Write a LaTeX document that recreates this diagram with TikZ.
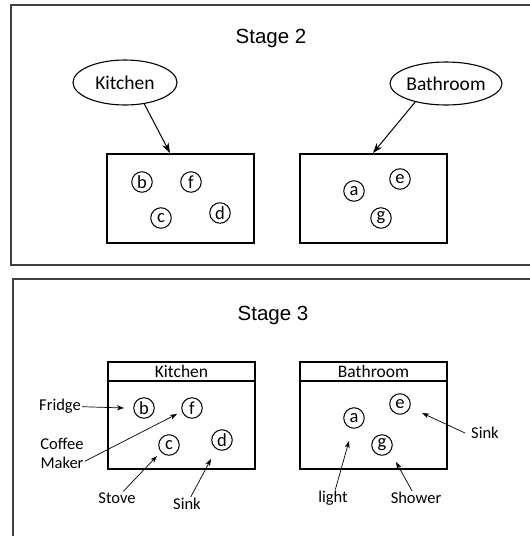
\documentclass[tikz,border=0pt]{standalone}
\usepackage{fontspec}
\setmainfont{Carlito}
\newfontfamily\arialf{Liberation Sans}
\usetikzlibrary{shapes.geometric,arrows.meta}
\begin{document}
\begin{tikzpicture}[x=1pt,y=-1pt,
  outer/.style={draw=black!75, line width=2pt},
  stagetitle/.style={font=\arialf\fontsize{20.5}{24}\selectfont, inner sep=0},
  oval/.style={ellipse, draw, line width=1.1pt, minimum width=104pt, minimum height=45pt, inner sep=0, font=\fontsize{19.5}{22}\selectfont},
  room/.style={draw, line width=1.4pt, minimum width=147pt, minimum height=89pt, inner sep=0},
  hdr/.style={draw, line width=1.4pt, minimum width=147pt, minimum height=19pt, inner sep=0, font=\fontsize{17.5}{19}\selectfont},
  item/.style={circle, draw, line width=1pt, minimum size=20.5pt, inner sep=0, font=\fontsize{18.5}{19}\selectfont},
  lbl/.style={inner sep=1pt, font=\fontsize{16.5}{19}\selectfont, align=center},
  bigarrow/.style={-{Stealth[length=10pt,width=7pt,inset=3pt]}, line width=1pt},
  smallarrow/.style={-{Stealth[length=7pt,width=5pt,inset=2pt]}, line width=0.7pt},
]
\useasboundingbox (0,0) rectangle (530,536);
\begin{scope}
\clip (0,0) rectangle (530,536);
\draw[outer] (11,4.5) rectangle (545,265);
\draw[outer] (13,279) rectangle (545,550);
\end{scope}

% ---------- Stage 2 ----------
\node[stagetitle] (t2) at (271,38) {Stage 2};
\node[oval] (k2) at (125,82.5) {Kitchen};
\node[oval, minimum width=102pt, minimum height=43pt] (b2) at (446,83.5) {Bathroom};
\node[room] (kbox2) at (180.5,198.5) {};
\node[room] (bbox2) at (373.5,198.5) {};
\coordinate (k2t) at (170,153);
\coordinate (b2t) at (373,153);
\draw[bigarrow] (k2.-48) -- (k2t);
\draw[bigarrow] (b2.-149) -- (b2t);

\node[item] (b2b) at (142,182) {b};
\node[item] (b2f) at (191,182) {f};
\node[item] (b2c) at (161,218) {c};
\node[item] (b2d) at (220,213) {d};
\node[item] (b2a) at (354,191) {a};
\node[item] (b2e) at (400,179) {e};
\node[item] (b2g) at (381,218) {g};

% ---------- Stage 3 ----------
\node[stagetitle] (t3) at (273,315) {Stage 3};
\node[hdr] (kh3) at (181.5,371.5) {Kitchen};
\node[room, minimum height=88pt] (kbox3) at (181.5,425) {};
\node[hdr] (bh3) at (373.5,371.5) {Bathroom};
\node[room, minimum height=88pt] (bbox3) at (373.5,425) {};

\node[item] (s3b) at (144,408) {b};
\node[item] (s3f) at (192,408) {f};
\node[item] (s3c) at (169,445) {c};
\node[item] (s3d) at (222,440) {d};
\node[item] (s3a) at (354,418) {a};
\node[item] (s3e) at (400,404) {e};
\node[item] (s3g) at (382,445) {g};

\node[lbl] (fr) at (60,406) {Fridge};
\node[lbl] (cm) at (62,453) {Coffee\\Maker};
\node[lbl] (st) at (117,498) {Stove};
\node[lbl] (sk) at (187,504) {Sink};
\node[lbl] (li) at (333,498) {light};
\node[lbl] (sh) at (416,498) {Shower};
\node[lbl] (sb) at (485,433) {Sink};

\coordinate (frt) at (124,408);
\coordinate (cmt) at (177,414);
\coordinate (stt) at (157,456);
\coordinate (skt) at (211,459);
\coordinate (lit) at (349,441);
\coordinate (sht) at (396,462);
\coordinate (sbt) at (422,413);

\draw[smallarrow] (fr) -- (frt);
\draw[smallarrow] (cm.-20) -- (cmt);
\draw[smallarrow] (st) -- (stt);
\draw[smallarrow] (sk) -- (skt);
\draw[smallarrow] (li) -- (lit);
\draw[smallarrow] (sh) -- (sht);
\draw[smallarrow] ([xshift=-5pt]sb.west) -- (sbt);
\end{tikzpicture}
\end{document}
